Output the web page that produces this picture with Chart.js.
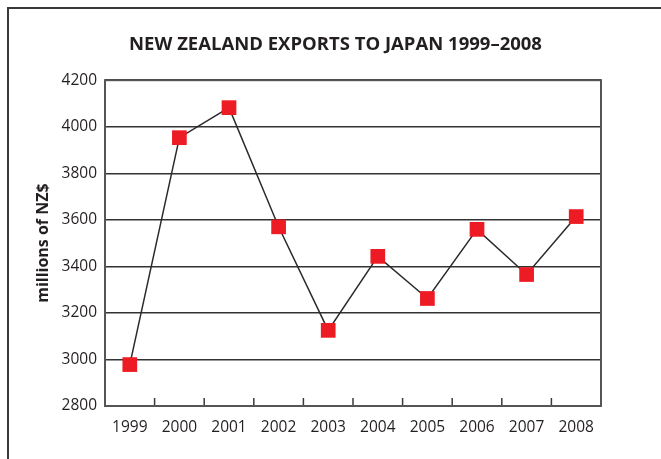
<!DOCTYPE html>
<html>
<head>
<meta charset="utf-8">
<script src="https://cdn.jsdelivr.net/npm/chart.js@4.4.1/dist/chart.umd.min.js"></script>
<style>
  html, body { margin: 0; padding: 0; background: #fff; }
  body { width: 661px; height: 459px; position: relative; overflow: hidden; }
  #frame { position: absolute; left: 7px; top: 7px; width: 700px; height: 500px;
           border-left: 2px solid #3a3a3a; border-top: 2px solid #3a3a3a; }
  #c { position: absolute; left: 0; top: 0; }
</style>
</head>
<body>
<div id="frame"></div>
<canvas id="c" width="661" height="459"></canvas>
<script>
const titleText = 'NEW ZEALAND EXPORTS TO JAPAN 1999\u20132008';
const yAxisTitle = 'millions of NZ$';
const years = ['1999', '2000', '2001', '2002', '2003', '2004', '2005', '2006', '2007', '2008'];
const exportsMillions = [2978, 3953, 4082, 3570, 3125, 3443, 3262, 3559, 3365, 3614];
const yMin = 2800;
const yMax = 4200;
const yStep = 200;

const ink = '#231f20';
const FONT = "'Open Sans', 'DejaVu Sans', sans-serif";

const plotDecor = {
  id: 'plotDecor',
  afterDatasetsDraw(chart) {
    const ctx = chart.ctx;
    const a = chart.chartArea;
    const xs = chart.scales.x;
    ctx.save();
    // inward tick marks between categories
    ctx.strokeStyle = '#3a3a3a';
    ctx.lineWidth = 1.5;
    for (let i = 1; i < years.length; i++) {
      const px = (xs.getPixelForValue(i - 1) + xs.getPixelForValue(i)) / 2;
      ctx.beginPath();
      ctx.moveTo(px, a.bottom);
      ctx.lineTo(px, a.bottom - 8);
      ctx.stroke();
    }
    // plot box
    ctx.strokeStyle = '#555';
    ctx.lineWidth = 2;
    ctx.strokeRect(a.left, a.top, a.right - a.left, a.bottom - a.top);
    ctx.restore();
  }
};

new Chart(document.getElementById('c'), {
  type: 'line',
  data: {
    labels: years,
    datasets: [{
      data: exportsMillions,
      borderColor: '#2a2a2a',
      borderWidth: 1.5,
      backgroundColor: '#ed1c24',
      pointBackgroundColor: '#ed1c24',
      pointBorderWidth: 0,
      pointStyle: 'rect',
      pointRadius: 10.4,
      pointHoverRadius: 10.4,
      tension: 0,
      fill: false,
      clip: false
    }]
  },
  options: {
    responsive: false,
    animation: false,
    events: [],
    layout: { padding: { left: 20, right: 10, top: 0, bottom: 0 } },
    plugins: {
      legend: { display: false },
      tooltip: { enabled: false },
      title: {
        display: true,
        text: titleText,
        color: ink,
        font: { family: FONT, size: 18.5, weight: 'bold', lineHeight: 1.2 },
        padding: { top: 34, bottom: 24 }
      }
    },
    scales: {
      x: {
        type: 'category',
        offset: true,
        grid: { display: true, drawOnChartArea: false, drawTicks: false, color: 'rgba(0,0,0,0)', offset: true },
        border: { display: false },
        ticks: { color: ink, padding: 12, font: { family: FONT, size: 15.5 }, maxRotation: 0, autoSkip: false },
        afterFit(scale) { scale.height = 53; }
      },
      y: {
        min: yMin,
        max: yMax,
        grid: { color: '#333', lineWidth: 1.5, drawTicks: false },
        border: { display: false },
        ticks: {
          stepSize: yStep, color: ink, padding: 8, font: { family: FONT, size: 15.5 },
          callback: (v) => String(v)
        },
        title: {
          display: true,
          text: yAxisTitle,
          color: ink,
          font: { family: FONT, size: 16, weight: 'bold', lineHeight: 1.2 },
          padding: { top: 14, bottom: 0 }
        },
        afterFit(scale) { scale.width = 85; }
      },
      yRightSpace: {
        type: 'linear',
        position: 'right',
        display: true,
        grid: { display: false, drawTicks: false },
        border: { display: false },
        ticks: { display: false },
        afterFit(scale) { scale.width = 50; }
      }
    }
  },
  plugins: [plotDecor]
});
</script>
</body>
</html>
